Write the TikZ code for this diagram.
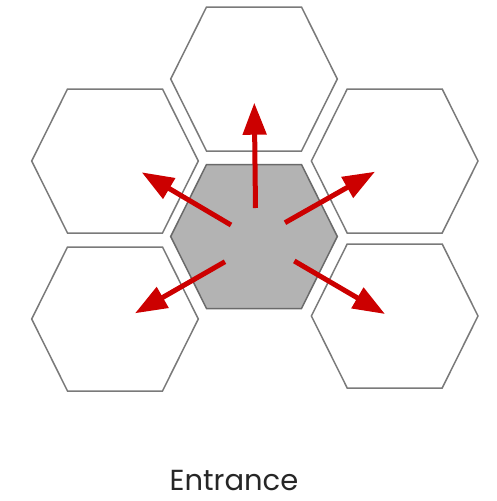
\documentclass[tikz,border=0pt]{standalone}
\usepackage{fontspec}
\setmainfont{Poppins}
\usetikzlibrary{arrows.meta}
\definecolor{arrowred}{HTML}{CC0000}
\definecolor{hexline}{HTML}{7A7A7A}
\definecolor{hexfill}{HTML}{B3B3B3}
\definecolor{coreline}{HTML}{6A6A6A}
\definecolor{txt}{HTML}{262626}
\tikzset{
  hexcell/.style={draw=hexline, line width=1.5pt, line join=miter},
  hexcore/.style={draw=coreline, fill=hexfill, line width=1.5pt},
  flow/.style={draw=arrowred, line width=5pt, -{Triangle[length=32pt,width=23pt]}},
  caption/.style={font=\fontsize{29}{34}\selectfont, text=txt, anchor=base, inner sep=0pt}
}
\newcommand{\hexpath}[1]{(#1) ++(-83.3,0) -- ++(35.8,-72) -- ++(95,0) -- ++(35.8,72) -- ++(-35.8,72) -- ++(-95,0) -- cycle}
\begin{document}
\begin{tikzpicture}[x=1pt,y=-1pt]
\useasboundingbox (0,0) rectangle (496,501);
% hexagon centres
\coordinate (top) at (254,79);
\coordinate (ctr) at (254,236.5);
\coordinate (ul) at (115,161);
\coordinate (ur) at (394.7,161);
\coordinate (ll) at (115,319);
\coordinate (lr) at (394.7,316);
\foreach \c in {top,ul,ur,ll,lr}{\draw[hexcell] \hexpath{\c};}
\draw[hexcore] \hexpath{ctr};
% arrow ends
\coordinate (sUp) at (255.5,208);   \coordinate (eUp) at (254.3,102.7);
\coordinate (sUL) at (231,225);     \coordinate (eUL) at (141.7,172.3);
\coordinate (sUR) at (285,222.7);   \coordinate (eUR) at (375,171.7);
\coordinate (sLL) at (225,261.7);   \coordinate (eLL) at (135,313.3);
\coordinate (sLR) at (294.3,261);   \coordinate (eLR) at (385,314);
\draw[flow] (sUp) -- (eUp);
\draw[flow] (sUL) -- (eUL);
\draw[flow] (sUR) -- (eUR);
\draw[flow] (sLL) -- (eLL);
\draw[flow] (sLR) -- (eLR);
\node[caption] (entr) at (234,490) {Entrance};
\end{tikzpicture}
\end{document}
